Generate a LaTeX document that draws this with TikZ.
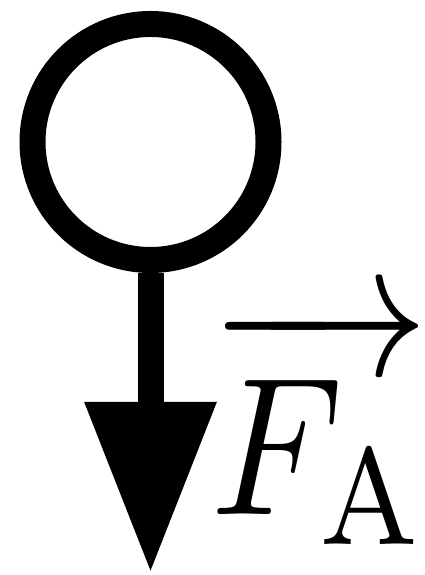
\documentclass[tikz,border=0pt]{standalone}
\usetikzlibrary{arrows.meta}
\begin{document}
\begin{tikzpicture}[>={Triangle[width=1.25cm,length=1.71cm]},every node/.style={inner sep=0pt}]
\useasboundingbox (0,0) rectangle (4.24,5.75);
\node[circle,draw,line width=.26cm,minimum size=2.36cm] (ring) at (1.505,4.33){};
\coordinate (tip) at (1.505,.02);
\draw[->,line width=.26cm] (ring.south)--(tip);
\node[anchor=base west,xscale=4.8,yscale=5.6] (label) at (2.08,.60){$\overrightarrow{\rule{0pt}{8.1pt}F_{\mathrm{A}}}$};
\end{tikzpicture}
\end{document}
